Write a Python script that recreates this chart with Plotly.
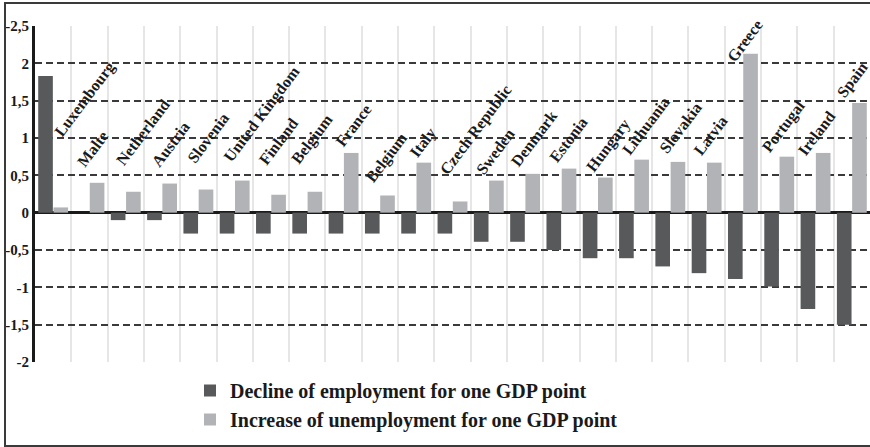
import plotly.graph_objects as go

countries = ["Luxembourg", "Malte", "Netherland", "Austria", "Slovenia", "United Kingdom",
             "Finland", "Belgium", "France", "Belgium", "Italy", "Czech Republic", "Sweden",
             "Denmark", "Estonia", "Hungary", "Lithuania", "Slovakia", "Latvia", "Greece",
             "Portugal", "Ireland", "Spain"]

decline_employment = [1.83, 0.0, -0.10, -0.10, -0.28, -0.28, -0.28, -0.28, -0.28, -0.28, -0.28,
                      -0.28, -0.39, -0.39, -0.50, -0.61, -0.61, -0.72, -0.81, -0.89, -0.99,
                      -1.29, -1.50]

increase_unemployment = [0.07, 0.40, 0.28, 0.39, 0.31, 0.43, 0.24, 0.28, 0.80, 0.23, 0.67,
                         0.15, 0.43, 0.52, 0.59, 0.47, 0.71, 0.68, 0.67, 2.13, 0.75, 0.80, 1.47]

series_names = ["Decline of employment for one GDP point",
                "Increase of unemployment for one GDP point"]

tick_values = [2.5, 2, 1.5, 1, 0.5, 0, -0.5, -1, -1.5, -2]
tick_labels = ["-2,5", "2", "1,5", "1", "0,5", "0", "-0,5", "-1", "-1,5", "-2"]

# label placement tweaks (pixels), relative to the light bar top / category centre
label_dx = [2, -11, -9, -9, -10, -10, -11, -15, -7, -13, -6, -12, -12, -13, -11, -11, -11,
            -10, -12, -15, -16, -17, -14]
label_dy = [73, 18, 29, 19, 29, 20, 32, 29, 8, 15, 7, 29, 8, 9, 8, 7, 7, 11, 10, -6, 6, 0, 7]

DARK = "#58595b"
LIGHT = "#b1b3b6"
FONT = "Liberation Serif"

n = len(countries)
xs = list(range(n))

fig = go.Figure()
fig.add_trace(go.Bar(x=xs, y=decline_employment, name=series_names[0],
                     marker=dict(color=DARK, line=dict(width=0))))
fig.add_trace(go.Bar(x=xs, y=increase_unemployment, name=series_names[1],
                     marker=dict(color=LIGHT, line=dict(width=0))))

annotations = []
for i, name in enumerate(countries):
    annotations.append(dict(
        x=xs[i], y=increase_unemployment[i], xref="x", yref="y",
        text="<b>%s</b>" % name, showarrow=False, textangle=-53,
        xanchor="left", yanchor="bottom",
        xshift=label_dx[i] - 7, yshift=label_dy[i] - 8,
        font=dict(family=FONT, size=16, color="#1a1a1a"),
    ))

W, H = 870, 447
L, R, T, B = 35, 0, 26, 85
pw, ph = W - L - R, H - T - B

def px_to_paper_x(p):
    return (p - L) / pw

def px_to_paper_y(p):
    return (H - B - p) / ph

fig.update_layout(
    width=W, height=H,
    margin=dict(l=L, r=R, t=T, b=B, pad=0),
    plot_bgcolor="white", paper_bgcolor="white",
    barmode="group", bargap=0.16, bargroupgap=0.04,
    font=dict(family=FONT, color="#1a1a1a"),
    showlegend=True,
    legend=dict(
        x=px_to_paper_x(190), y=px_to_paper_y(371), xanchor="left", yanchor="top",
        font=dict(family=FONT, size=20, color="#1a1a1a", weight="bold"),
        bgcolor="rgba(0,0,0,0)", tracegroupgap=0, itemwidth=30,
    ),
    xaxis=dict(
        range=[-0.5, n - 0.5], tickmode="array",
        tickvals=[i + 0.5 for i in range(n)], showticklabels=False, ticks="",
        showgrid=True, gridcolor="#e6e6e6", gridwidth=1.5, zeroline=False, showline=False,
        fixedrange=True,
    ),
    yaxis=dict(
        range=[-2, 2.5], tickmode="array", tickvals=tick_values, ticktext=tick_labels,
        showgrid=True, gridcolor="#3a3a3a", gridwidth=1.5, griddash="7px,4px",
        zeroline=True, zerolinecolor="#1a1a1a", zerolinewidth=2.5,
        showline=True, linecolor="#1a1a1a", linewidth=3, ticks="",
        tickfont=dict(family=FONT, size=15, color="#1a1a1a", weight="bold"),
        ticklabelstandoff=0,
    ),
    annotations=annotations,
    shapes=[dict(type="rect", xref="paper", yref="paper",
                 x0=px_to_paper_x(5), x1=px_to_paper_x(880),
                 y0=px_to_paper_y(446), y1=px_to_paper_y(3),
                 line=dict(color="#3a3a3a", width=2), fillcolor="rgba(0,0,0,0)",
                 layer="above")],
)

fig.write_html("out.html")
